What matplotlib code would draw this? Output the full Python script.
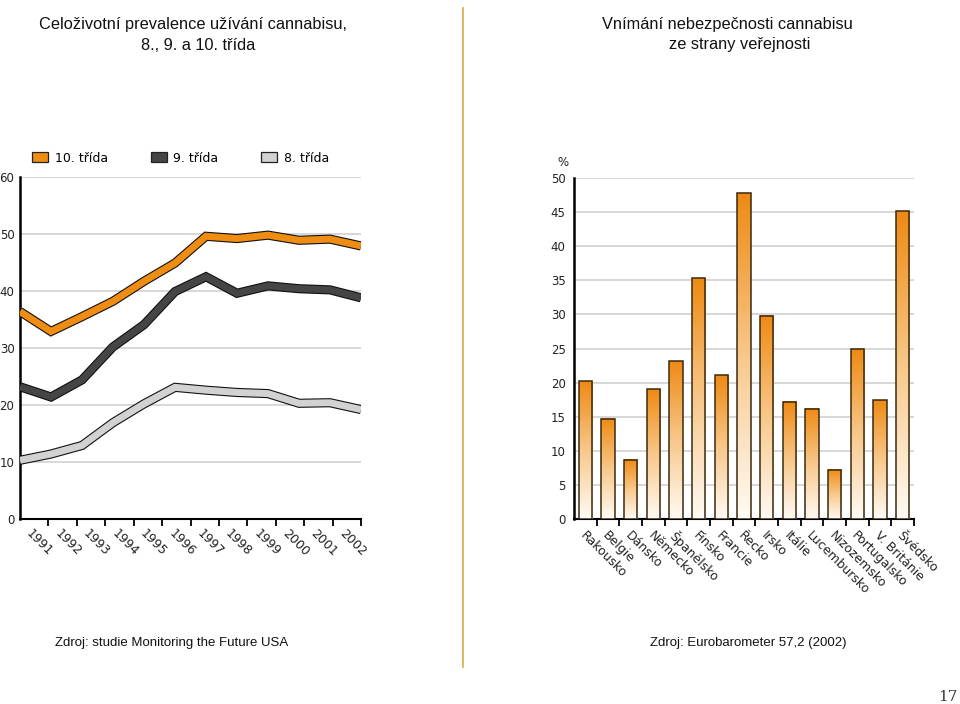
import numpy as np
import matplotlib
matplotlib.use("Agg")
import matplotlib.pyplot as plt
from matplotlib import font_manager as fm
from matplotlib.patches import Patch
from matplotlib.colors import LinearSegmentedColormap
import matplotlib.patheffects as pe
import matplotlib.transforms as mtrans

# ---------------- data ----------------
years = ["1991", "1992", "1993", "1994", "1995", "1996",
         "1997", "1998", "1999", "2000", "2001", "2002"]
grade10 = [36.4, 32.9, 35.5, 38.2, 41.7, 44.9, 49.6, 49.2, 49.8, 48.9, 49.1, 47.9]
grade9 = [23.2, 21.4, 24.4, 30.2, 34.1, 39.9, 42.5, 39.6, 40.9, 40.4, 40.2, 38.8]
grade8 = [10.3, 11.4, 12.9, 16.9, 20.2, 23.1, 22.6, 22.2, 22.0, 20.3, 20.4, 19.2]
series_labels = ["10. třída", "9. třída", "8. třída"]

countries = ["Rakousko", "Belgie", "Dánsko", "Německo", "Španělsko", "Finsko",
             "Francie", "Řecko", "Irsko", "Itálie", "Lucembursko", "Nizozemsko",
             "Portugalsko", "V. Británie", "Švédsko"]
danger = [20.2, 14.7, 8.7, 19.0, 23.1, 35.3, 21.1, 47.8, 29.8, 17.2, 16.2, 7.2,
          24.9, 17.4, 45.1]

left_yticks = [0, 10, 20, 30, 40, 50, 60]
right_yticks = [0, 5, 10, 15, 20, 25, 30, 35, 40, 45, 50]

# ---------------- fonts ----------------
names = {f.name for f in fm.fontManager.ttflist}
narrow = "Liberation Sans Narrow" if "Liberation Sans Narrow" in names else "Liberation Sans"
tickfont = "DejaVu Sans"

W, H = 960, 704
fig = plt.figure(figsize=(W / 100, H / 100), dpi=100)

def fx(px):
    return px / W

def fy(py):
    return 1 - py / H

C_OR = "#EF8C12"
C_DK = "#454545"
C_LT = "#D2D2D2"
GRID = "#D4D4D4"

# ---------------- left chart ----------------
axl = fig.add_axes([fx(20), fy(519), fx(361) - fx(20), fy(177) - fy(519)])
n = len(years)
xpts = np.linspace(0, n, n)
for vals, col in [(grade8, C_LT), (grade9, C_DK), (grade10, C_OR)]:
    axl.plot(xpts, vals, color=col, lw=5.0, solid_joinstyle="miter",
             solid_capstyle="butt", zorder=3,
             path_effects=[pe.Stroke(linewidth=6.6, foreground="#111111",
                                     joinstyle="miter", capstyle="butt"),
                           pe.Normal()])
axl.set_xlim(0, n)
axl.set_ylim(0, 60)
axl.set_yticks(left_yticks)
axl.set_yticklabels([str(v) for v in left_yticks], fontsize=8.5, family=tickfont, color="#222222")
axl.tick_params(axis="y", length=0, pad=4)
axl.set_xticks(np.arange(n) + 0.5)
axl.set_xticklabels(years, fontsize=9, family=tickfont, color="#222222")
axl.set_xticks(np.arange(1, n + 1), minor=True)
axl.tick_params(axis="x", which="major", length=0, pad=6)
axl.tick_params(axis="x", which="minor", length=5, width=1.3, direction="out", color="black")
for lab in axl.get_xticklabels():
    lab.set_rotation(-45)
    lab.set_ha("left")
    lab.set_va("top")
    lab.set_rotation_mode("anchor")
    lab.set_transform(lab.get_transform() + mtrans.ScaledTranslation(-1 / 100, 0, fig.dpi_scale_trans))
axl.grid(axis="y", color=GRID, lw=1.3)
axl.set_axisbelow(True)
for s in ["top", "right"]:
    axl.spines[s].set_visible(False)
axl.spines["left"].set_linewidth(1.8)
axl.spines["bottom"].set_linewidth(1.5)

handles = [Patch(facecolor=c, edgecolor="#222222", lw=0.9) for c in (C_OR, C_DK, C_LT)]
fig.legend(handles, series_labels, loc="center left",
           bbox_to_anchor=(fx(32), fy(158)), ncol=3, frameon=False,
           prop={"family": tickfont, "size": 9}, handlelength=1.28, handleheight=0.9,
           handletextpad=0.55, columnspacing=3.4, borderpad=0, borderaxespad=0)

# ---------------- right chart ----------------
axr = fig.add_axes([fx(574), fy(519), fx(914) - fx(574), fy(178) - fy(519)])
m = len(countries)
xc = np.arange(m) + 0.5
bars = axr.bar(xc, danger, width=0.58, facecolor="none", edgecolor="#3A2A10",
               lw=1.1, zorder=4)
grad = np.linspace(0, 1, 256).reshape(-1, 1)
cmap = LinearSegmentedColormap.from_list("og", ["#FFFBF5", "#F8C88A", "#EE8A14"])
for r in bars:
    x0, w, h = r.get_x(), r.get_width(), r.get_height()
    axr.imshow(grad, cmap=cmap, aspect="auto", origin="lower",
               extent=(x0, x0 + w, 0, h), zorder=3, interpolation="bilinear")
axr.set_xlim(0, m)
axr.set_ylim(0, 50)
axr.set_yticks(right_yticks)
axr.set_yticklabels([str(v) for v in right_yticks], fontsize=8.5, family=tickfont, color="#222222")
axr.tick_params(axis="y", length=0, pad=6)
axr.set_xticks(xc)
axr.set_xticklabels(countries, fontsize=9, family=tickfont, color="#222222")
axr.set_xticks(np.arange(1, m + 1), minor=True)
axr.tick_params(axis="x", which="major", length=0, pad=7)
axr.tick_params(axis="x", which="minor", length=5, width=1.3, direction="out", color="black")
for lab in axr.get_xticklabels():
    lab.set_rotation(-45)
    lab.set_ha("left")
    lab.set_va("top")
    lab.set_rotation_mode("anchor")
    lab.set_transform(lab.get_transform() + mtrans.ScaledTranslation(1 / 100, 0, fig.dpi_scale_trans))
axr.grid(axis="y", color=GRID, lw=1.3)
axr.set_axisbelow(True)
for s in ["top", "right"]:
    axr.spines[s].set_visible(False)
axr.spines["left"].set_linewidth(1.8)
axr.spines["bottom"].set_linewidth(1.5)
axr.set_zorder(2)
fig.text(fx(563), fy(162), "%", fontsize=8.5, family=tickfont, ha="center", va="center", color="#222222")

# ---------------- titles, footers, divider ----------------
tkw = dict(family=narrow, fontsize=11.8, ha="center", va="center", color="#111111")
fig.text(fx(193), fy(25), "Celoživotní prevalence užívání cannabisu,", **tkw)
fig.text(fx(198), fy(45), "8., 9. a 10. třída", **tkw)
fig.text(fx(727), fy(25), "Vnímání nebezpečnosti cannabisu", **tkw)
fig.text(fx(740), fy(45), "ze strany veřejnosti", **tkw)

fkw = dict(family=narrow, fontsize=9.5, ha="left", va="center", color="#111111")
fig.text(fx(55), fy(643), "Zdroj: studie Monitoring the Future USA", **fkw)
fig.text(fx(650), fy(643), "Zdroj: Eurobarometer 57,2 (2002)", **fkw)

fig.add_artist(plt.Line2D([fx(463), fx(463)], [fy(8), fy(667)], color="#E2AE55", lw=1.3))
fig.text(fx(957), fy(697), "17", family="DejaVu Serif", fontsize=11, ha="right",
         va="center", color="#333333")

fig.savefig("out.png", dpi=100)
